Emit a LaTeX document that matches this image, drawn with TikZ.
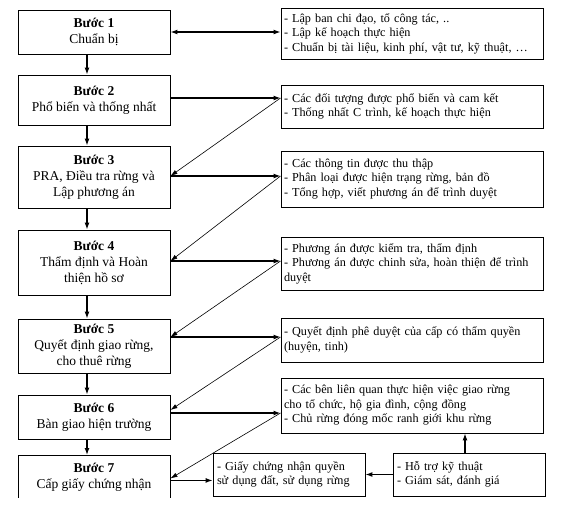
\documentclass[tikz,border=0pt]{standalone}
\usepackage{fontspec}
\setmainfont{Liberation Serif}
\usetikzlibrary{arrows.meta}

\tikzset{
  buoc/.style={draw, line width=0.9pt, minimum width=152pt, align=center,
    font=\fontsize{13.5}{16}\selectfont, inner sep=2pt},
  ketqua/.style={draw, line width=0.9pt, text width=256pt, inner xsep=3pt,
    inner ysep=2pt, align=left, font=\fontsize{12.2}{14.5}\selectfont},
  hopnho/.style={ketqua, text width=144pt, inner xsep=4pt},
  muiten/.style={-{Latex[length=7pt,width=5pt]}, line width=1.3pt},
  xien/.style={-{Latex[length=7pt,width=4.5pt]}, line width=0.6pt},
}

\begin{document}
\begin{tikzpicture}[x=1pt,y=1pt]
\useasboundingbox (0,0) rectangle (563,-507);

% cac buoc
\node[buoc, minimum height=44pt] (b1) at (94,-32) {\textbf{Bước 1}\\Chuẩn bị};
\node[buoc, minimum height=50pt] (b2) at (94,-100) {\textbf{Bước 2}\\Phổ biến và thống nhất};
\node[buoc, minimum height=62pt] (b3) at (94,-177) {\textbf{Bước 3}\\PRA, Điều tra rừng và\\Lập phương án};
\node[buoc, minimum height=65pt] (b4) at (94,-262.5) {\textbf{Bước 4}\\Thẩm định và Hoàn\\thiện hồ sơ};
\node[buoc, minimum height=54pt] (b5) at (94,-346) {\textbf{Bước 5}\\Quyết định giao rừng,\\cho thuê rừng};
\node[buoc, minimum height=44pt] (b6) at (94,-417) {\textbf{Bước 6}\\Bàn giao hiện trường};
\begin{scope}
\clip (0,0) rectangle (563,-497);
\node[buoc, minimum height=44pt, anchor=north] (b7) at (94,-455) {\textbf{Bước 7}\\Cấp giấy chứng nhận};
\end{scope}

% ket qua
\node[ketqua, minimum height=51pt] (k1) at (412,-33.5) {- Lập ban chi đạo, tổ công tác, ..\\- Lập kế hoạch thực hiện\\- Chuẩn bị tài liệu, kinh phí, vật tư, kỹ thuật, …};
\node[ketqua, minimum height=43pt] (k2) at (412,-106.5) {- Các đối tượng được phổ biến và cam kết\\- Thống nhất C trình, kế hoạch thực hiện};
\node[ketqua, minimum height=56pt] (k3) at (412,-179) {- Các thông tin được thu thập\\- Phân loại được hiện trạng rừng, bản đồ\\- Tổng hợp, viết phương án để trình duyệt};
\node[ketqua, minimum height=53pt] (k4) at (412,-263.5) {- Phương án được kiểm tra, thẩm định\\- Phương án được chinh sửa, hoàn thiện để trình\\duyệt};
\node[ketqua, minimum height=44pt] (k5) at (412,-340) {- Quyết định phê duyệt của cấp có thẩm quyền\\(huyện, tinh)};
\node[ketqua, minimum height=55pt] (k6) at (412,-405.5) {- Các bên liên quan thực hiện việc giao rừng\\cho tổ chức, hộ gia đình, cộng đồng\\- Chủ rừng đóng mốc ranh giới khu rừng};
\node[hopnho, minimum height=43pt] (k7) at (289,-474.5) {- Giấy chứng nhận quyền\\sử dụng đất, sử dụng rừng};
\node[hopnho, minimum height=43pt] (k8) at (469,-474.5) {- Hỗ trợ kỹ thuật\\- Giám sát, đánh giá};

% diem cham ben phai
\coordinate (c2) at ([yshift=2pt]b2.east -| k2.west);
\coordinate (c3) at ([yshift=1pt]b3.east -| k3.west);
\coordinate (c4) at ([yshift=1.5pt]b4.east -| k4.west);
\coordinate (c5) at ([yshift=9pt]b5.east -| k5.west);
\coordinate (c6) at ([yshift=4pt]b6.east -| k6.west);

% mui ten doc
\draw[muiten] ([xshift=-7pt]b1.south) -- ([xshift=-7pt]b2.north);
\draw[muiten] ([xshift=-7pt]b2.south) -- ([xshift=-7pt]b3.north);
\draw[muiten] ([xshift=-7pt]b3.south) -- ([xshift=-7pt]b4.north);
\draw[muiten] ([xshift=-7pt]b4.south) -- ([xshift=-7pt]b5.north);
\draw[muiten] ([xshift=-7pt]b5.south) -- ([xshift=-7pt]b6.north);
\draw[muiten] ([xshift=-7pt]b6.south) -- ([xshift=-7pt]b7.north);

% mui ten ngang
\draw[muiten, {Latex[length=7pt,width=5pt]}-{Latex[length=7pt,width=5pt]}] (b1.east) -- (b1.east -| k1.west);
\draw[muiten] ([yshift=2pt]b2.east) -- (c2);
\draw[muiten] ([yshift=1pt]b3.east) -- (c3);
\draw[muiten] ([yshift=1.5pt]b4.east) -- (c4);
\draw[muiten] ([yshift=9pt]b5.east) -- (c5);
\draw[muiten, line width=2pt] ([yshift=4pt]b6.east) -- (c6);
\draw[muiten, line width=1.1pt] ([yshift=-3pt]b7.east) -- ([yshift=-3pt]b7.east -| k7.west);

% mui ten xien
\draw[xien] (c2) -- ([yshift=1pt]b3.east);
\draw[xien] (c3) -- ([yshift=1.5pt]b4.east);
\draw[xien] (c4) -- ([yshift=9pt]b5.east);
\draw[xien] (c5) -- ([yshift=7pt]b6.east);
\draw[xien] (c6) -- ([yshift=-1pt]b7.east);

% ho tro
\draw[muiten, line width=1.1pt] (k8.west) -- (k7.east);
\draw[muiten, line width=1.1pt] ([xshift=-4pt]k8.north) -- ([xshift=-4pt]k8.north |- k6.south);
\end{tikzpicture}
\end{document}
